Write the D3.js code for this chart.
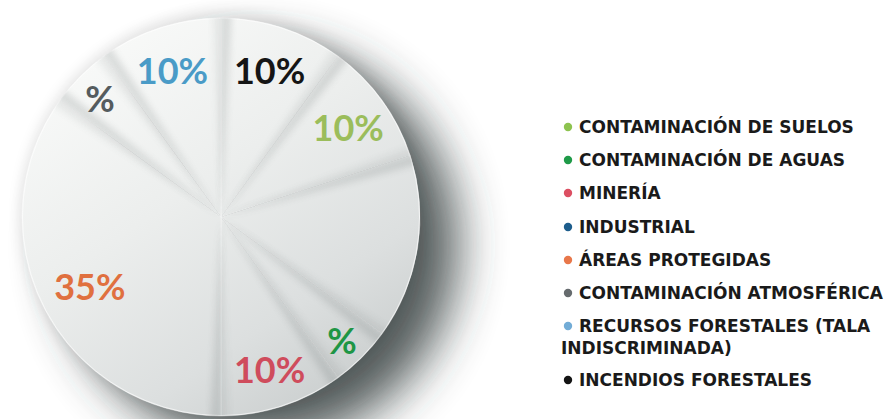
<!DOCTYPE html>
<html>
<head>
<meta charset="utf-8">
<script src="https://cdn.jsdelivr.net/npm/d3@7"></script>
<style>
  html, body { margin: 0; padding: 0; background: #fff; }
  svg { display: block; }
</style>
</head>
<body>
<svg id="chart" width="889" height="419"></svg>
<script>
// Causes of environmental damage, clockwise from 12 o'clock
const categories = [
  "INCENDIOS FORESTALES",
  "CONTAMINACIÓN DE SUELOS",
  "INDUSTRIAL",
  "CONTAMINACIÓN DE AGUAS",
  "MINERÍA",
  "ÁREAS PROTEGIDAS",
  "CONTAMINACIÓN ATMOSFÉRICA",
  "RECURSOS FORESTALES (TALA INDISCRIMINADA)"
];
const values = [10, 10, 15, 5, 10, 35, 5, 10];
const sliceLabels = ["10%", "10%", "", "%", "10%", "35%", "%", "10%"];
const labelColors = ["#151515", "#9bbd5b", "#1f5f8b", "#1e9645", "#cf4c5c", "#e0703f", "#555c5e", "#4a9bc7"];

// Legend order and dot colours
const legendItems = [
  "CONTAMINACIÓN DE SUELOS",
  "CONTAMINACIÓN DE AGUAS",
  "MINERÍA",
  "INDUSTRIAL",
  "ÁREAS PROTEGIDAS",
  "CONTAMINACIÓN ATMOSFÉRICA",
  "RECURSOS FORESTALES (TALA INDISCRIMINADA)",
  "INCENDIOS FORESTALES"
];
const legendLines = [
  ["CONTAMINACIÓN DE SUELOS"],
  ["CONTAMINACIÓN DE AGUAS"],
  ["MINERÍA"],
  ["INDUSTRIAL"],
  ["ÁREAS PROTEGIDAS"],
  ["CONTAMINACIÓN ATMOSFÉRICA"],
  ["RECURSOS FORESTALES (TALA", "INDISCRIMINADA)"],
  ["INCENDIOS FORESTALES"]
];
const legendColors = ["#8dc34f", "#1f9a48", "#dc4f62", "#1d5d8c", "#e8774a", "#666b6e", "#72acd6", "#141414"];

const svg = d3.select("#chart");
const defs = svg.append("defs");
const cx = 221, cy = 217, R = 199;

// Soft drop shadow below-right of the disc
const shadow = defs.append("filter").attr("id", "discShadow")
  .attr("x", "-40%").attr("y", "-40%").attr("width", "180%").attr("height", "180%");
shadow.append("feGaussianBlur").attr("stdDeviation", 24);

const faint = defs.append("filter").attr("id", "haloBlur")
  .attr("x", "-30%").attr("y", "-30%").attr("width", "160%").attr("height", "160%");
faint.append("feGaussianBlur").attr("stdDeviation", 7);

const foldBlur = defs.append("filter").attr("id", "foldBlur")
  .attr("x", "-50%").attr("y", "-50%").attr("width", "200%").attr("height", "200%");
foldBlur.append("feGaussianBlur").attr("stdDeviation", 3.5);

// Overall disc shading: light at the top, darker towards the bottom-right (relative to the centre)
const grad = defs.append("linearGradient").attr("id", "discFill")
  .attr("gradientUnits", "userSpaceOnUse")
  .attr("x1", -R * 0.55).attr("y1", -R * 0.95).attr("x2", R * 0.7).attr("y2", R * 0.9);
grad.append("stop").attr("offset", 0).attr("stop-color", "#f9faf9");
grad.append("stop").attr("offset", 0.4).attr("stop-color", "#eceeed");
grad.append("stop").attr("offset", 0.75).attr("stop-color", "#dcdfdf");
grad.append("stop").attr("offset", 1).attr("stop-color", "#c9cdcd");

defs.append("clipPath").attr("id", "discClip")
  .append("circle").attr("cx", cx).attr("cy", cy).attr("r", R);

const g = svg.append("g").attr("transform", `translate(${cx},${cy})`);

// Shadows
g.append("circle").attr("cx", 2).attr("cy", -2).attr("r", R + 4)
  .attr("fill", "#000").attr("opacity", 0.09).attr("filter", "url(#haloBlur)");
g.append("circle").attr("cx", 38).attr("cy", 28).attr("r", R)
  .attr("fill", "#2f3739").attr("opacity", 0.82).attr("filter", "url(#discShadow)");

const pie = d3.pie().sort(null).value(d => d)(values);
const arc = d3.arc().innerRadius(0).outerRadius(R);

g.selectAll("path.slice").data(pie).join("path")
  .attr("class", "slice")
  .attr("d", arc)
  .attr("fill", "url(#discFill)")
  .attr("stroke", "#ffffff")
  .attr("stroke-opacity", 0.5)
  .attr("stroke-width", 0.7);

// Folded-paper shading along the edges of each slice
const folds = svg.append("g").attr("clip-path", "url(#discClip)")
  .append("g").attr("transform", `translate(${cx},${cy})`);
const foldArc = d3.arc().innerRadius(4).outerRadius(R + 10);
folds.selectAll("path.foldLead").data(pie).join("path")
  .attr("class", "foldLead")
  .attr("d", d => foldArc({ startAngle: d.startAngle + 0.004, endAngle: d.startAngle + 0.05 }))
  .attr("fill", "#67706f")
  .attr("opacity", 0.22)
  .attr("filter", "url(#foldBlur)");
folds.selectAll("path.foldTrail").data(pie).join("path")
  .attr("class", "foldTrail")
  .attr("d", d => foldArc({ startAngle: d.endAngle - 0.04, endAngle: d.endAngle - 0.004 }))
  .attr("fill", "#67706f")
  .attr("opacity", 0.1)
  .attr("filter", "url(#foldBlur)");

// Thin highlight on the rim
g.append("circle").attr("r", R - 0.5).attr("fill", "none")
  .attr("stroke", "#ffffff").attr("stroke-opacity", 0.6).attr("stroke-width", 1);

// Percentage labels: narrow slices carry their label further out
const labelPos = (d) => {
  const rr = R * (d.data <= 5 ? 0.86 : (d.data >= 30 ? 0.74 : 0.79));
  return d3.arc().innerRadius(rr).outerRadius(rr).centroid(d);
};
g.selectAll("text.pct").data(pie).join("text")
  .attr("class", "pct")
  .attr("transform", d => `translate(${labelPos(d)})`)
  .attr("text-anchor", "middle")
  .attr("dy", "0.45em")
  .attr("font-family", "Lato, 'Open Sans', sans-serif")
  .attr("font-weight", 700)
  .attr("font-size", 36)
  .attr("fill", (d, i) => labelColors[i])
  .text((d, i) => sliceLabels[i]);

// Legend
const legend = svg.append("g").attr("font-family", "'DejaVu Sans', sans-serif")
  .attr("font-weight", "bold").attr("font-size", 17).attr("fill", "#1a1a1a");
const rowPos = [127, 160, 193, 227, 260, 293, 326, 380];
legendItems.forEach((name, i) => {
  const y = rowPos[i];
  legend.append("circle").attr("cx", 568).attr("cy", y).attr("r", 4.2).attr("fill", legendColors[i]);
  legendLines[i].forEach((line, j) => {
    legend.append("text")
      .attr("x", j === 0 ? 579 : 561)
      .attr("y", y + j * 22)
      .attr("dy", "0.36em")
      .text(line);
  });
});
</script>
</body>
</html>
